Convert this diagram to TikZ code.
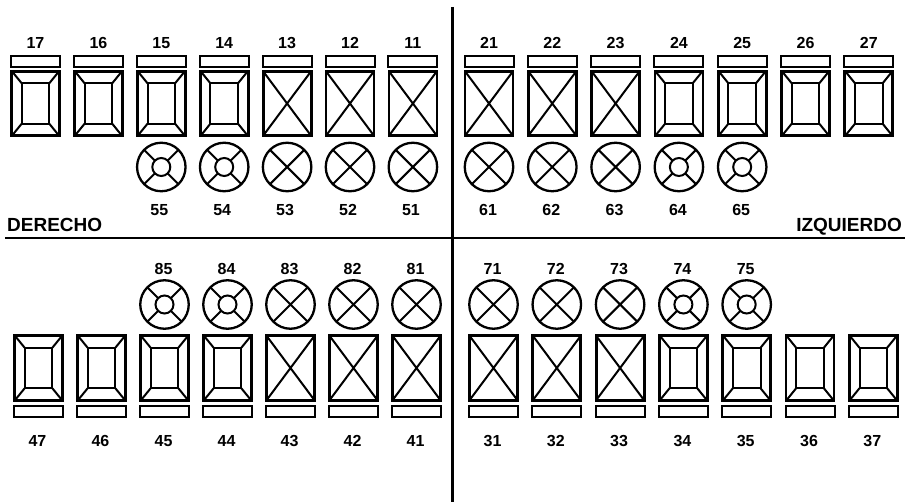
\documentclass[tikz,border=0pt]{standalone}
\usepackage{fontspec}
\setmainfont{Liberation Sans}
\tikzset{
  tooth/.style={draw, line width=2.8pt, minimum width=48pt, minimum height=64.5pt, inner sep=0pt, outer sep=0pt},
  molar/.style={tooth, path picture={
    \draw[line width=2pt] ([shift={(-13.8pt,-20.2pt)}]path picture bounding box.center) rectangle ([shift={(13.8pt,20.2pt)}]path picture bounding box.center);
    \foreach \sx/\sy in {1/1,1/-1,-1/1,-1/-1}{
      \draw[line width=2pt] ([shift={(\sx*13.8pt,\sy*20.2pt)}]path picture bounding box.center) -- ([shift={(\sx*25pt,\sy*34pt)}]path picture bounding box.center);}
  }},
  incisor/.style={tooth, path picture={
    \draw[line width=2pt] (path picture bounding box.north west) -- (path picture bounding box.south east)
      (path picture bounding box.north east) -- (path picture bounding box.south west);
  }},
  bud/.style={circle, draw, line width=2.3pt, minimum size=48.5pt, inner sep=0pt, outer sep=0pt},
  ring/.style={bud, path picture={
    \draw[line width=2pt] (path picture bounding box.center) circle[radius=9pt];
    \foreach \a in {45,135,225,315}{
      \draw[line width=2pt] ([shift={(\a:9pt)}]path picture bounding box.center) -- ([shift={(\a:26pt)}]path picture bounding box.center);}
  }},
  xcirc/.style={bud, path picture={
    \draw[line width=2pt] ([shift={(45:26pt)}]path picture bounding box.center) -- ([shift={(225:26pt)}]path picture bounding box.center)
      ([shift={(135:26pt)}]path picture bounding box.center) -- ([shift={(315:26pt)}]path picture bounding box.center);
  }},
  bar/.style={draw, line width=2pt, minimum width=49pt, minimum height=10.5pt, inner sep=0pt, outer sep=0pt},
  num/.style={font=\fontsize{16}{16}\selectfont\bfseries, inner sep=0pt, text height=11.5pt, text depth=0pt},
  side/.style={font=\fontsize{19}{19}\selectfont\bfseries, inner sep=0pt, text height=13.6pt, text depth=0pt},
  divider/.style={line width=2pt},
}
\begin{document}
\begin{tikzpicture}[x=1pt,y=-1pt]
\useasboundingbox (0,0) rectangle (909,502);
% dividers
\coordinate (vtop) at (452,7);
\coordinate (vbot) at (452,502);
\coordinate (hl) at (5,238);
\coordinate (hr) at (905,238);
\draw[divider, line width=3pt] (vtop) -- (vbot);
\draw[divider] (hl) -- (hr);
% upper left
\foreach \n/\typ [count=\i from 0] in {17/molar,16/molar,15/molar,14/molar,13/incisor,12/incisor,11/incisor}{
  \pgfmathsetmacro\xx{35.5+62.9*\i}
  \node[num] (l\n) at (\xx,43) {\n};
  \node[bar] (b\n) at (\xx,61.5) {};
  \node[\typ] (t\n) at (\xx,103.5) {};
}
\foreach \n/\typ [count=\i from 2] in {55/ring,54/ring,53/xcirc,52/xcirc,51/xcirc}{
  \pgfmathsetmacro\xx{35.5+62.9*\i}
  \node[\typ] (c\n) at (\xx,167) {};
  \node[num] (l\n) at (\xx-2,209.5) {\n};
}
% upper right
\foreach \n/\typ [count=\i from 0] in {21/incisor,22/incisor,23/incisor,24/molar,25/molar,26/molar,27/molar}{
  \pgfmathsetmacro\xx{489+63.3*\i}
  \node[num] (l\n) at (\xx,43) {\n};
  \node[bar] (b\n) at (\xx,61.5) {};
  \node[\typ] (t\n) at (\xx,103.5) {};
}
\foreach \n/\typ [count=\i from 0] in {61/xcirc,62/xcirc,63/xcirc,64/ring,65/ring}{
  \pgfmathsetmacro\xx{489+63.3*\i}
  \node[\typ] (c\n) at (\xx,167) {};
  \node[num] (l\n) at (\xx-1,209.5) {\n};
}
% lower left
\foreach \n/\typ [count=\i from 2] in {85/ring,84/ring,83/xcirc,82/xcirc,81/xcirc}{
  \pgfmathsetmacro\xx{38.5+63*\i}
  \node[num] (l\n) at (\xx-1,268.5) {\n};
  \node[\typ] (c\n) at (\xx,304.5) {};
}
\foreach \n/\typ [count=\i from 0] in {47/molar,46/molar,45/molar,44/molar,43/incisor,42/incisor,41/incisor}{
  \pgfmathsetmacro\xx{38.5+63*\i}
  \node[\typ] (t\n) at (\xx,368) {};
  \node[bar] (b\n) at (\xx,411.5) {};
  \node[num] (l\n) at (\xx-1,440.5) {\n};
}
% lower right
\foreach \n/\typ [count=\i from 0] in {71/xcirc,72/xcirc,73/xcirc,74/ring,75/ring}{
  \pgfmathsetmacro\xx{493.5+63.3*\i}
  \node[num] (l\n) at (\xx-1,268.5) {\n};
  \node[\typ] (c\n) at (\xx,304.5) {};
}
\foreach \n/\typ [count=\i from 0] in {31/incisor,32/incisor,33/incisor,34/molar,35/molar,36/molar,37/molar}{
  \pgfmathsetmacro\xx{493.5+63.3*\i}
  \node[\typ] (t\n) at (\xx,368) {};
  \node[bar] (b\n) at (\xx,411.5) {};
  \node[num] (l\n) at (\xx-1,440.5) {\n};
}
% side labels
\node[side, anchor=west] (der) at (7,225) {DERECHO};
\node[side, anchor=east] (izq) at (902,225) {IZQUIERDO};
\end{tikzpicture}
\end{document}
